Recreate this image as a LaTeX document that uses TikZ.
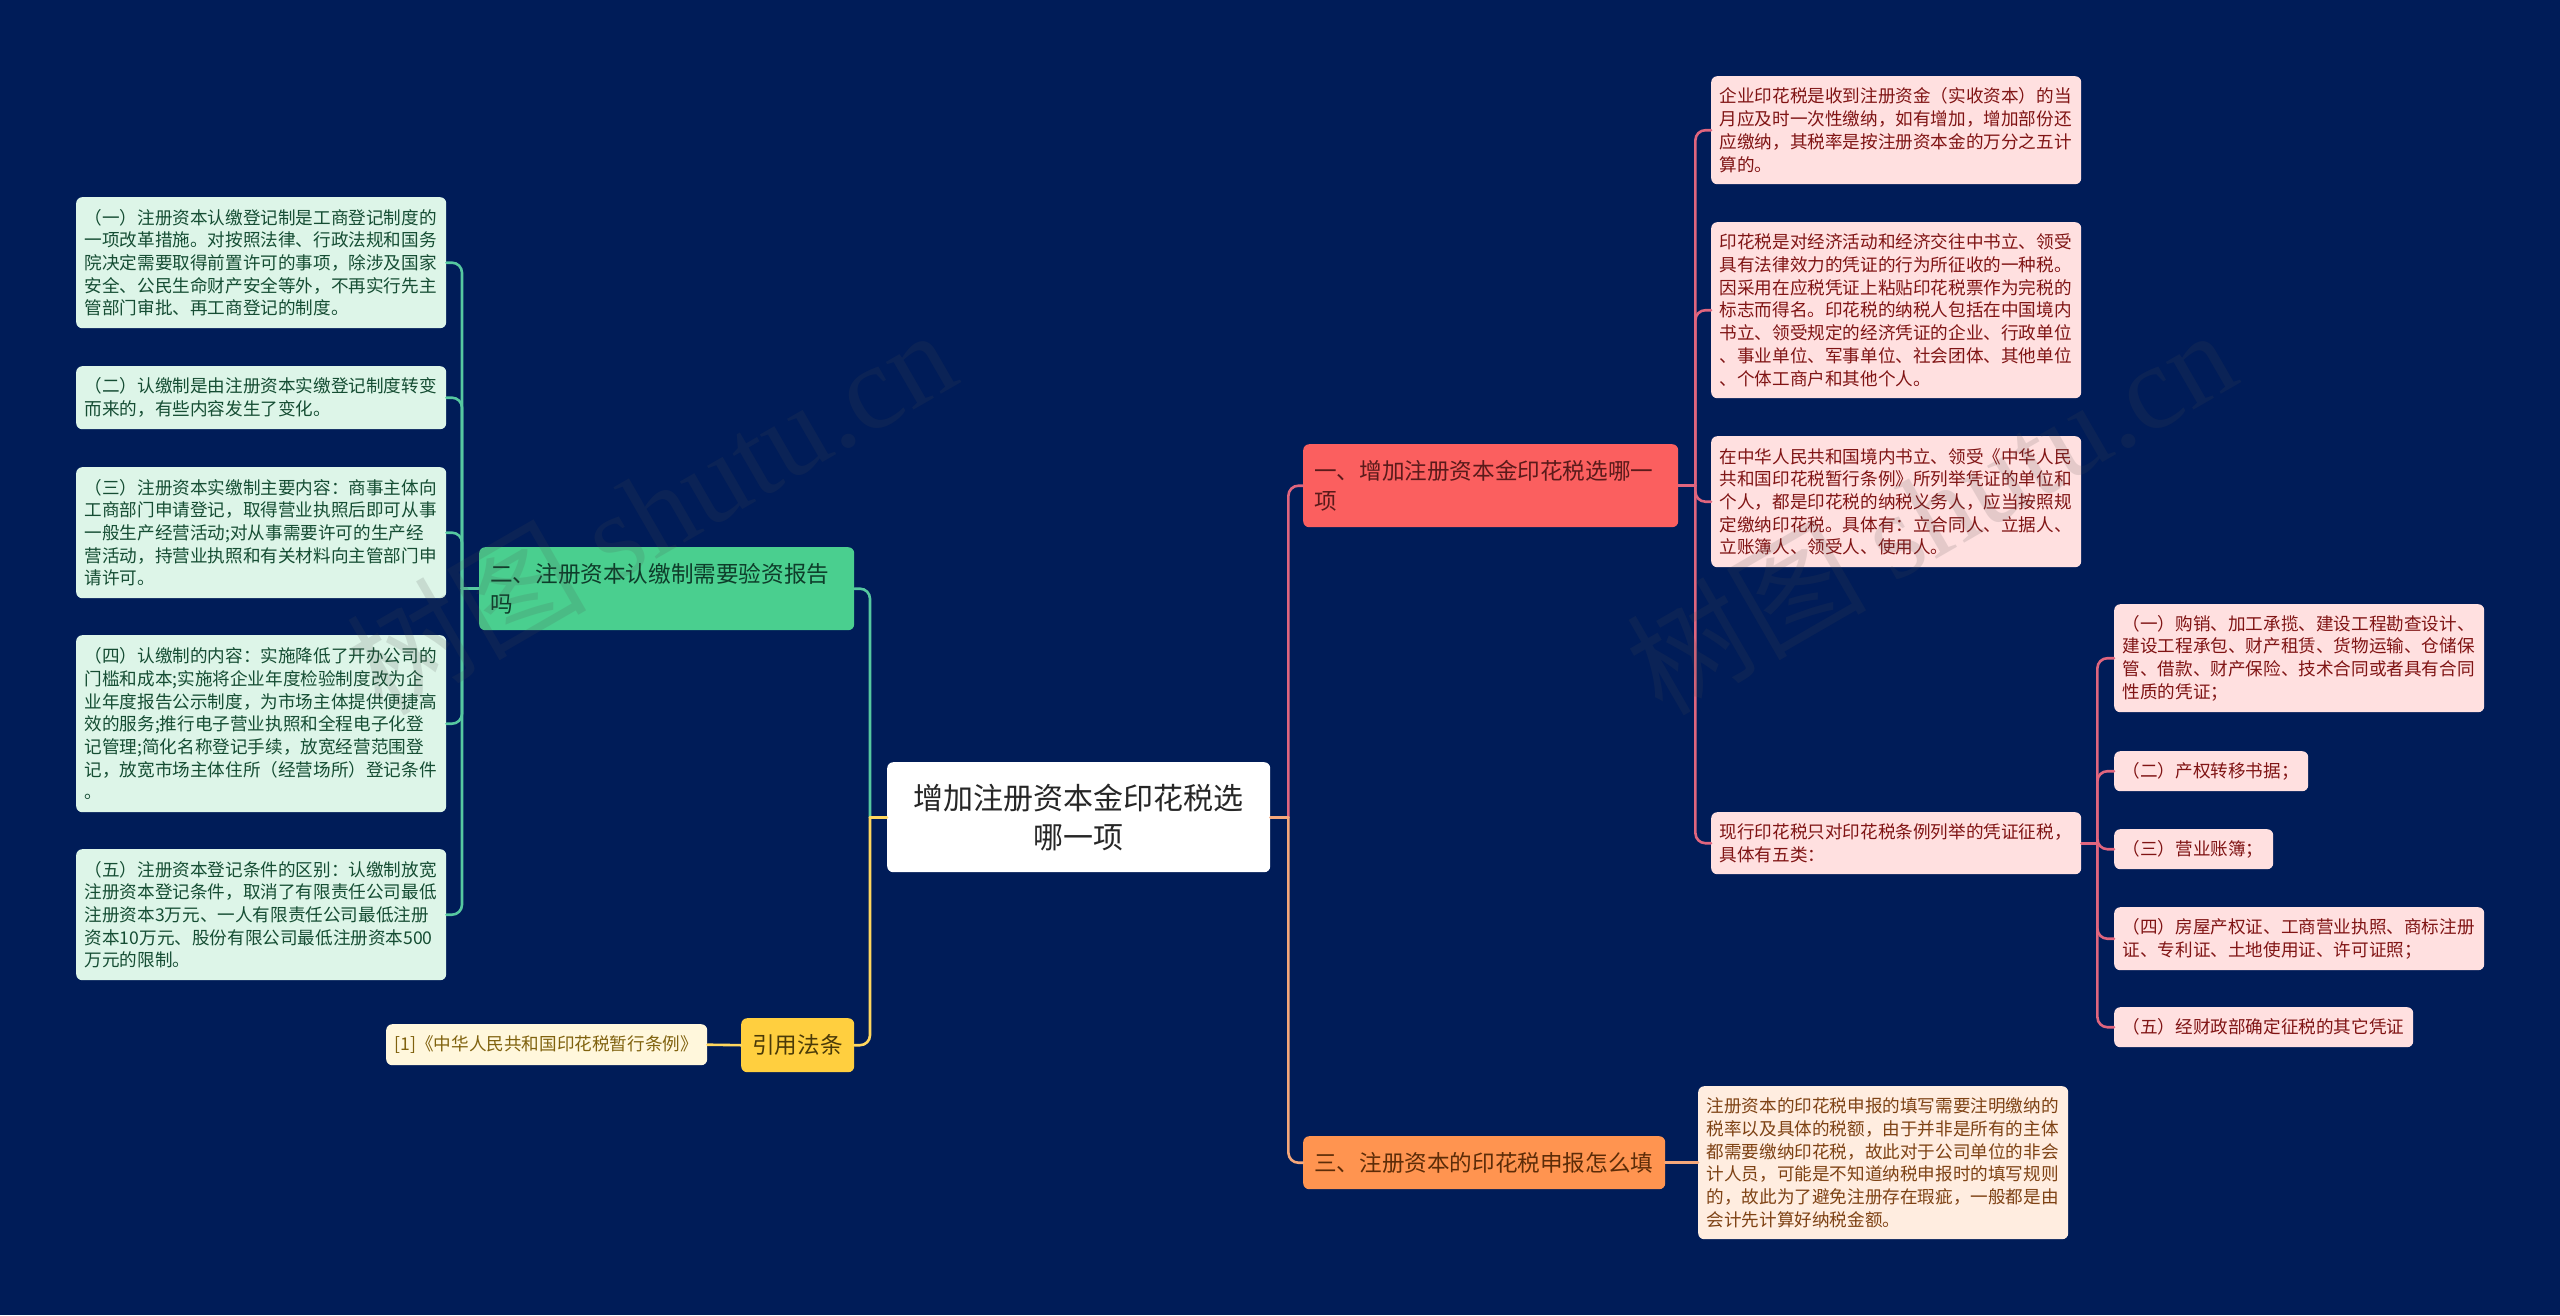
\documentclass[tikz,border=0pt]{standalone}
\usepackage{fontspec}
\setmainfont{Noto Sans CJK SC}
\newfontfamily\markfont{Liberation Serif}
\definecolor{bgblue}{HTML}{001C58}
\definecolor{greenfill}{HTML}{4ACF8F}
\definecolor{greenleaf}{HTML}{DDF5E8}
\definecolor{greentext}{HTML}{154D33}
\definecolor{greendark}{HTML}{0E3D2A}
\definecolor{greenline}{HTML}{56C8A0}
\definecolor{redfill}{HTML}{FB5F5F}
\definecolor{redleaf}{HTML}{FFE0E0}
\definecolor{redtext}{HTML}{801414}
\definecolor{reddark}{HTML}{5A1A1A}
\definecolor{redline}{HTML}{E0657E}
\definecolor{orangefill}{HTML}{FF9450}
\definecolor{orangeleaf}{HTML}{FFEDE0}
\definecolor{orangetext}{HTML}{7E4214}
\definecolor{orangedark}{HTML}{5C2C08}
\definecolor{orangeline}{HTML}{F5A77A}
\definecolor{goldfill}{HTML}{FFCF3F}
\definecolor{goldleaf}{HTML}{FFF7DC}
\definecolor{goldtext}{HTML}{80620E}
\definecolor{golddark}{HTML}{4A3A08}
\definecolor{goldline}{HTML}{FFD75E}
\tikzset{
	box/.style={anchor=north west, rounded corners=6pt, inner ysep=0pt, align=left},
	leaf/.style={box, inner xsep=8.5pt, font=\fontsize{17.6}{22.7}\selectfont},
	topic/.style={box, inner xsep=11pt, font=\fontsize{22.6}{30.5}\selectfont},
	joint/.style={line width=2.6pt, line cap=round, rounded corners=10pt},
	wmark/.style={rotate=30, text=gray!60!black, opacity=0.15, inner sep=0pt, font=\fontsize{120}{125}\selectfont}
}

\begin{document}
\begin{tikzpicture}[x=1pt,y=-1pt]
	\fill[color=bgblue] (0,0) rectangle (2560,1315);
	\useasboundingbox (0,0) rectangle (2560,1315);

	\node[box, fill=white, text=black!85, inner xsep=0pt, text width=383pt, minimum height=110pt, align=center, font=\fontsize{30}{39}\selectfont] (root) at (887,762) {增加注册资本金印花税选\\哪一项};

	\node[topic, fill=greenfill, text=greendark, text width=353pt, minimum height=83pt] (two) at (479,547) {二、注册资本认缴制需要验资报告\\吗};
	\node[leaf, fill=greenleaf, text=greentext, text width=353pt, minimum height=131pt] (g1) at (76,197) {（一）注册资本认缴登记制是工商登记制度的\\一项改革措施。对按照法律、行政法规和国务\\院决定需要取得前置许可的事项，除涉及国家\\安全、公民生命财产安全等外，不再实行先主\\管部门审批、再工商登记的制度。};
	\node[leaf, fill=greenleaf, text=greentext, text width=353pt, minimum height=63pt] (g2) at (76,366) {（二）认缴制是由注册资本实缴登记制度转变\\而来的，有些内容发生了变化。};
	\node[leaf, fill=greenleaf, text=greentext, text width=353pt, minimum height=131pt] (g3) at (76,467) {（三）注册资本实缴制主要内容：商事主体向\\工商部门申请登记，取得营业执照后即可从事\\一般生产经营活动;对从事需要许可的生产经\\营活动，持营业执照和有关材料向主管部门申\\请许可。};
	\node[leaf, fill=greenleaf, text=greentext, text width=353pt, minimum height=177pt] (g4) at (76,635) {（四）认缴制的内容：实施降低了开办公司的\\门槛和成本;实施将企业年度检验制度改为企\\业年度报告公示制度，为市场主体提供便捷高\\效的服务;推行电子营业执照和全程电子化登\\记管理;简化名称登记手续，放宽经营范围登\\记，放宽市场主体住所（经营场所）登记条件\\。};
	\node[leaf, fill=greenleaf, text=greentext, text width=353pt, minimum height=131pt] (g5) at (76,849) {（五）注册资本登记条件的区别：认缴制放宽\\注册资本登记条件，取消了有限责任公司最低\\注册资本3万元、一人有限责任公司最低注册\\资本10万元、股份有限公司最低注册资本500\\万元的限制。};

	\node[topic, fill=goldfill, text=golddark, text width=91pt, minimum height=54pt] (law) at (741,1018) {引用法条};
	\node[leaf, fill=goldleaf, text=goldtext, text width=304pt, minimum height=41pt] (q1) at (386,1024) {[1]《中华人民共和国印花税暂行条例》};

	\node[topic, fill=redfill, text=reddark, text width=353pt, minimum height=83pt] (one) at (1303,444) {一、增加注册资本金印花税选哪一\\项};
	\node[leaf, fill=redleaf, text=redtext, text width=353pt, minimum height=108pt] (r1) at (1711,76) {企业印花税是收到注册资金（实收资本）的当\\月应及时一次性缴纳，如有增加，增加部份还\\应缴纳，其税率是按注册资本金的万分之五计\\算的。};
	\node[leaf, fill=redleaf, text=redtext, text width=353pt, minimum height=176pt] (r2) at (1711,222) {印花税是对经济活动和经济交往中书立、领受\\具有法律效力的凭证的行为所征收的一种税。\\因采用在应税凭证上粘贴印花税票作为完税的\\标志而得名。印花税的纳税人包括在中国境内\\书立、领受规定的经济凭证的企业、行政单位\\、事业单位、军事单位、社会团体、其他单位\\、个体工商户和其他个人。};
	\node[leaf, fill=redleaf, text=redtext, text width=353pt, minimum height=131pt] (r3) at (1711,436) {在中华人民共和国境内书立、领受《中华人民\\共和国印花税暂行条例》所列举凭证的单位和\\个人，都是印花税的纳税义务人，应当按照规\\定缴纳印花税。具体有：立合同人、立据人、\\立账簿人、领受人、使用人。};
	\node[leaf, fill=redleaf, text=redtext, text width=353pt, minimum height=62pt] (r4) at (1711,812) {现行印花税只对印花税条例列举的凭证征税，\\具体有五类：};

	\node[leaf, fill=redleaf, text=redtext, text width=353pt, minimum height=108pt] (s1) at (2114,604) {（一）购销、加工承揽、建设工程勘查设计、\\建设工程承包、财产租赁、货物运输、仓储保\\管、借款、财产保险、技术合同或者具有合同\\性质的凭证；};
	\node[leaf, fill=redleaf, text=redtext, text width=177pt, minimum height=40pt] (s2) at (2114,751) {（二）产权转移书据；};
	\node[leaf, fill=redleaf, text=redtext, text width=142pt, minimum height=40pt] (s3) at (2114,829) {（三）营业账簿；};
	\node[leaf, fill=redleaf, text=redtext, text width=353pt, minimum height=63pt] (s4) at (2114,907) {（四）房屋产权证、工商营业执照、商标注册\\证、专利证、土地使用证、许可证照；};
	\node[leaf, fill=redleaf, text=redtext, text width=282pt, minimum height=40pt] (s5) at (2114,1007) {（五）经财政部确定征税的其它凭证};

	\node[topic, fill=orangefill, text=orangedark, text width=340pt, minimum height=53pt] (three) at (1303,1136) {三、注册资本的印花税申报怎么填};
	\node[leaf, fill=orangeleaf, text=orangetext, text width=353pt, minimum height=153pt] (o1) at (1698,1086) {注册资本的印花税申报的填写需要注明缴纳的\\税率以及具体的税额，由于并非是所有的主体\\都需要缴纳印花税，故此对于公司单位的非会\\计人员，可能是不知道纳税申报时的填写规则\\的，故此为了避免注册存在瑕疵，一般都是由\\会计先计算好纳税金额。};

	\coordinate (rootleft) at ([xshift=-17pt]root.west);
	\coordinate (rootright) at ([xshift=18pt]root.east);
	\coordinate (twoleft) at ([xshift=-17pt]two.west);
	\coordinate (oneright) at ([xshift=17pt]one.east);
	\coordinate (formright) at ([xshift=16pt]r4.east);

	\draw[joint, color=greenline] (rootleft) |- (two.east);
	\draw[joint, color=goldline] (rootleft) |- (law.east);
	\draw[joint, color=goldline] (root.west) -- (rootleft);
	\draw[joint, color=orangeline] (rootright) |- (three.west);
	\draw[joint, color=redline] (rootright) |- (one.west);
	\draw[joint, color=orangeline] (root.east) -- (rootright);

	\draw[joint, color=greenline] (twoleft) |- (g1.east);
	\draw[joint, color=greenline] (twoleft) |- (g2.east);
	\draw[joint, color=greenline] (twoleft) |- (g3.east);
	\draw[joint, color=greenline] (twoleft) |- (g4.east);
	\draw[joint, color=greenline] (twoleft) |- (g5.east);
	\draw[joint, color=greenline] (two.west) -- (twoleft);

	\draw[joint, color=goldline] (law.west) -- (q1.east);
	\draw[joint, color=orangeline] (three.east) -- (o1.west);

	\draw[joint, color=redline] (oneright) |- (r1.west);
	\draw[joint, color=redline] (oneright) |- (r2.west);
	\draw[joint, color=redline] (oneright) |- (r3.west);
	\draw[joint, color=redline] (oneright) |- (r4.west);
	\draw[joint, color=redline] (one.east) -- (oneright);

	\draw[joint, color=redline] (formright) |- (s1.west);
	\draw[joint, color=redline] (formright) |- (s2.west);
	\draw[joint, color=redline] (formright) |- (s3.west);
	\draw[joint, color=redline] (formright) |- (s4.west);
	\draw[joint, color=redline] (formright) |- (s5.west);
	\draw[joint, color=redline] (r4.east) -- (formright);

	\node[wmark] (mark1) at (650,510) {树图 {\markfont shutu.cn}};
	\node[wmark] (mark2) at (1930,510) {树图 {\markfont shutu.cn}};
\end{tikzpicture}
\end{document}
